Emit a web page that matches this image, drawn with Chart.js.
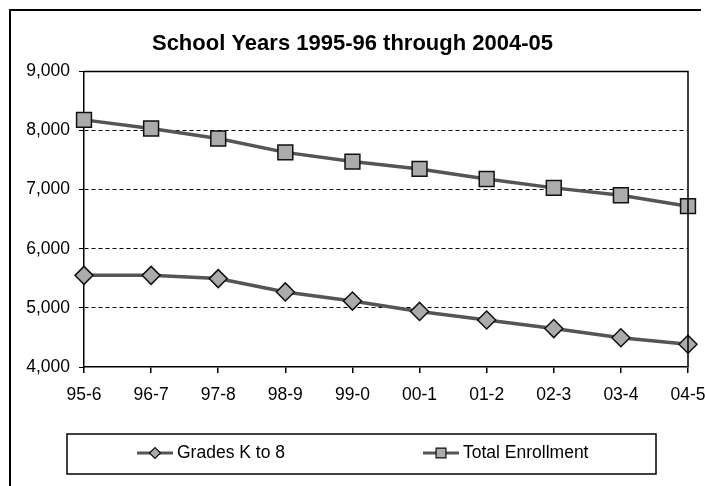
<!DOCTYPE html>
<html>
<head>
<meta charset="utf-8">
<script src="https://cdn.jsdelivr.net/npm/chart.js@4"></script>
<style>
  html, body { margin: 0; padding: 0; background: #fff; }
  #wrap { position: relative; width: 705px; height: 486px; }
</style>
</head>
<body>
<div id="wrap"><canvas id="chart" width="705" height="486"></canvas></div>
<script>
// data
var years = ['95-6', '96-7', '97-8', '98-9', '99-0', '00-1', '01-2', '02-3', '03-4', '04-5'];
var gradesK8 = [5550, 5550, 5495, 5270, 5115, 4940, 4795, 4650, 4495, 4385];
var totalEnrollment = [8180, 8035, 7865, 7630, 7475, 7350, 7180, 7030, 6905, 6720];
var yTicks = [4000, 5000, 6000, 7000, 8000, 9000];

var FONT = "'Liberation Sans', Arial, sans-serif";
var MARKER_FILL = '#ababab';
var LINE_GRAY = '#555';

// page frame, plot box and the boxed legend
var framePlugin = {
    id: 'frame',
    beforeDraw: function(chart) {
        var ctx = chart.ctx;
        ctx.save();
        ctx.fillStyle = '#fff';
        ctx.fillRect(0, 0, chart.width, chart.height);
        ctx.strokeStyle = '#000';
        ctx.lineWidth = 2;
        ctx.beginPath();
        ctx.moveTo(10, 486);
        ctx.lineTo(10, 10);
        ctx.lineTo(701, 10);
        ctx.stroke();
        ctx.restore();
    },
    afterDatasetsDraw: function(chart) {
        var ctx = chart.ctx, a = chart.chartArea;
        ctx.save();
        ctx.strokeStyle = '#000';
        ctx.lineWidth = 1.5;
        ctx.beginPath();
        ctx.moveTo(a.left, a.top);
        ctx.lineTo(a.right, a.top);
        ctx.lineTo(a.right, a.bottom);
        ctx.stroke();
        ctx.restore();
    },
    afterDraw: function(chart) {
        var ctx = chart.ctx;
        ctx.save();
        ctx.strokeStyle = '#000';
        ctx.lineWidth = 1.5;
        ctx.strokeRect(67, 434, 589, 40);
        var items = [{ x: 137, ds: 0 }, { x: 423, ds: 1 }];
        var cy = 453;
        items.forEach(function(it) {
            var ds = chart.data.datasets[it.ds];
            ctx.strokeStyle = LINE_GRAY;
            ctx.lineWidth = 3;
            ctx.beginPath();
            ctx.moveTo(it.x, cy);
            ctx.lineTo(it.x + 36, cy);
            ctx.stroke();
            ctx.fillStyle = MARKER_FILL;
            ctx.strokeStyle = '#111';
            ctx.lineWidth = 1.2;
            Chart.helpers.drawPoint(ctx, {
                pointStyle: ds.pointStyle,
                radius: ds.pointStyle === 'rect' ? 7 : 5.5,
                rotation: 0,
                borderWidth: 1.2
            }, it.x + 18, cy);
            ctx.fillStyle = '#000';
            ctx.font = '17.5px ' + FONT;
            ctx.textBaseline = 'middle';
            ctx.textAlign = 'left';
            ctx.fillText(ds.label, it.x + 40, cy);
        });
        ctx.restore();
    }
};

new Chart(document.getElementById('chart'), {
    type: 'line',
    data: {
        labels: years,
        datasets: [{
            label: 'Grades K to 8',
            data: gradesK8,
            borderColor: LINE_GRAY,
            borderWidth: 3.5,
            pointStyle: 'rectRot',
            pointRadius: 9,
            pointBackgroundColor: MARKER_FILL,
            pointBorderColor: '#111',
            pointBorderWidth: 1.5,
            tension: 0
        }, {
            label: 'Total Enrollment',
            data: totalEnrollment,
            borderColor: LINE_GRAY,
            borderWidth: 3.5,
            pointStyle: 'rect',
            pointRadius: 10.5,
            pointBackgroundColor: MARKER_FILL,
            pointBorderColor: '#111',
            pointBorderWidth: 1.5,
            tension: 0
        }]
    },
    options: {
        responsive: false,
        devicePixelRatio: 1,
        animation: false,
        clip: false,
        layout: { padding: { left: 0, right: 0, top: 10, bottom: 69 } },
        plugins: {
            legend: { display: false },
            tooltip: { enabled: false },
            title: {
                display: true,
                text: 'School Years 1995-96 through 2004-05',
                color: '#000',
                font: { family: FONT, size: 22, weight: 'bold' },
                padding: { top: 21, bottom: 14 }
            }
        },
        scales: {
            x: {
                offset: false,
                border: { display: true, color: '#000', width: 1.5 },
                grid: { drawOnChartArea: false, drawTicks: true, tickLength: 6, color: '#000', lineWidth: 1.5 },
                ticks: { color: '#000', padding: 12, maxRotation: 0, font: { family: FONT, size: 17.5 } },
                afterFit: function(scale) {
                    scale.height = 50;
                    scale.paddingRight = 17;
                }
            },
            y: {
                min: 4000,
                max: 9000,
                afterBuildTicks: function(scale) {
                    scale.ticks = yTicks.map(function(v) { return { value: v }; });
                },
                border: { display: true, color: '#000', width: 1.5, dash: [4, 3] },
                grid: {
                    color: function(c) { return (c.tick && (c.tick.value === 9000 || c.tick.value === 4000)) ? 'rgba(0,0,0,0)' : '#000'; },
                    lineWidth: 1,
                    drawTicks: true,
                    tickLength: 5,
                    tickColor: '#000',
                    tickBorderDash: []
                },
                ticks: {
                    color: '#000',
                    padding: 9,
                    font: { family: FONT, size: 17.5 },
                    callback: function(v) { return Number(v).toLocaleString('en-US'); }
                },
                afterFit: function(scale) { scale.width = 84; }
            }
        }
    },
    plugins: [framePlugin]
});
</script>
</body>
</html>
